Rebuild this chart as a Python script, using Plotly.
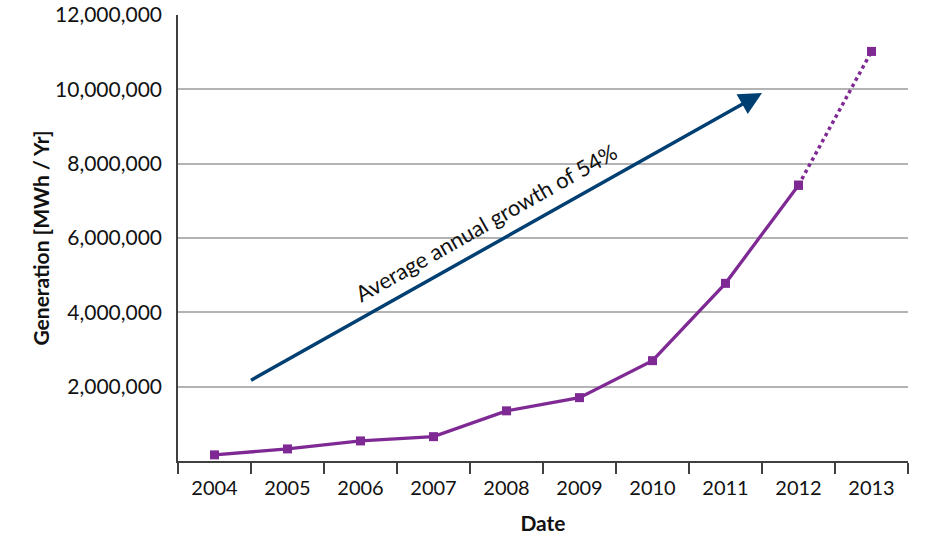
import plotly.graph_objects as go

# Annual generation, MWh per year
years = ["2004", "2005", "2006", "2007", "2008", "2009", "2010", "2011", "2012", "2013"]
generation = [165000, 325000, 540000, 655000, 1350000, 1705000, 2700000, 4780000, 7420000, 11020000]

# The last year is a projection, drawn dotted
actual_years = years[:9]
actual_gen = generation[:9]
proj_years = years[8:]
proj_gen = generation[8:]

y_ticks = [2000000, 4000000, 6000000, 8000000, 10000000, 12000000]
y_tick_text = ["2,000,000", "4,000,000", "6,000,000", "8,000,000", "10,000,000", "12,000,000"]

# Growth trend arrow (category index, value)
arrow_start = (0.48, 2150000)
arrow_end = (7.5, 9900000)
arrow_label = "Average annual growth of 54%"

PURPLE = "#7F2A94"
NAVY = "#003F72"
FONT = "Lato, 'Open Sans', sans-serif"
TEXT = "#111111"

fig = go.Figure()

fig.add_trace(go.Scatter(
    x=proj_years, y=proj_gen, mode="lines+markers",
    line=dict(color=PURPLE, width=3.5, dash="dot"),
    marker=dict(symbol="square", size=9, color=PURPLE),
    showlegend=False, hoverinfo="x+y",
))
fig.add_trace(go.Scatter(
    x=actual_years, y=actual_gen, mode="lines+markers",
    line=dict(color=PURPLE, width=3.3),
    marker=dict(symbol="square", size=9, color=PURPLE),
    showlegend=False, hoverinfo="x+y",
))

fig.add_annotation(
    x=arrow_end[0], y=arrow_end[1], ax=arrow_start[0], ay=arrow_start[1],
    xref="x", yref="y", axref="x", ayref="y",
    text="", showarrow=True, arrowhead=2, arrowsize=1.3, arrowwidth=3.5,
    arrowcolor=NAVY, standoff=0,
)
fig.add_annotation(
    x=(arrow_start[0] + arrow_end[0]) / 2 - 0.27,
    y=(arrow_start[1] + arrow_end[1]) / 2 + 390000,
    xref="x", yref="y", text=arrow_label, showarrow=False,
    textangle=-29.5, font=dict(family=FONT, size=22, color=TEXT),
)

fig.update_xaxes(
    type="category", categoryorder="array", categoryarray=years,
    range=[-0.5, 9.5], automargin=False,
    showline=True, linecolor="#404040", linewidth=1.5,
    ticks="outside", tickson="boundaries", ticklen=11, tickcolor="#404040", tickwidth=1.5,
    ticklabelstandoff=8,
    showgrid=False, tickfont=dict(family=FONT, size=20, color=TEXT),
    title=dict(text="<b>Date</b>", font=dict(family=FONT, size=21, color=TEXT), standoff=19),
)
fig.update_yaxes(
    range=[0, 12000000], tickvals=y_ticks, ticktext=y_tick_text, automargin=False,
    showline=True, linecolor="#404040", linewidth=1.5,
    showgrid=True, gridcolor="#b3b3b3", gridwidth=1.5, zeroline=False,
    ticks="", ticklabelstandoff=10,
    tickfont=dict(family=FONT, size=21, color=TEXT),
    title=dict(text="<b>Generation [MWh / Yr]</b>", font=dict(family=FONT, size=21, color=TEXT), standoff=0),
)

fig.update_layout(
    width=929, height=538,
    margin=dict(l=178, r=21, t=15, b=77),
    plot_bgcolor="white", paper_bgcolor="white",
)

fig.write_html("out.html")
